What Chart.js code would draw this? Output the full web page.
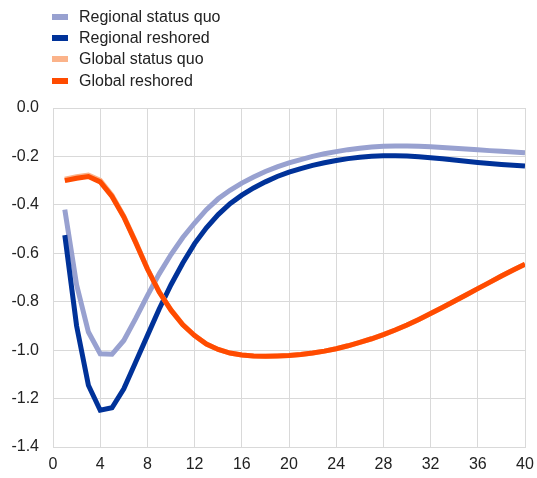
<!DOCTYPE html>
<html>
<head>
<meta charset="utf-8">
<script src="https://cdn.jsdelivr.net/npm/chart.js@4"></script>
<style>
    html, body { margin: 0; padding: 0; background: #fff; }
    #wrap { position: relative; width: 537px; height: 478px; }
    #legend { position: absolute; left: 52px; top: 6px; font: 16px "Liberation Sans", Arial, sans-serif; color: #222; }
    .item { height: 21.3px; display: flex; align-items: center; }
    .swatch { width: 16px; height: 6px; margin-right: 11px; }
</style>
</head>
<body>
<div id="wrap">
    <canvas id="chart" width="537" height="478"></canvas>
    <div id="legend"></div>
</div>
<script>
const quarters = Array.from({ length: 40 }, (_, i) => i + 1);

const regionalStatusQuo = [
    -0.42, -0.73, -0.925, -1.015, -1.017, -0.96, -0.87, -0.775, -0.685, -0.605,
    -0.535, -0.475, -0.42, -0.375, -0.34, -0.31, -0.285, -0.262, -0.243, -0.227,
    -0.213, -0.2, -0.189, -0.18, -0.172, -0.166, -0.161, -0.158, -0.157, -0.157,
    -0.158, -0.16, -0.163, -0.166, -0.169, -0.172, -0.176, -0.179, -0.182, -0.185
];
const regionalReshored = [
    -0.525, -0.9, -1.145, -1.248, -1.238, -1.16, -1.05, -0.94, -0.83, -0.73,
    -0.64, -0.56, -0.495, -0.44, -0.395, -0.36, -0.33, -0.305, -0.283, -0.265,
    -0.25, -0.237, -0.226, -0.217, -0.209, -0.203, -0.199, -0.197, -0.197, -0.198,
    -0.201, -0.205, -0.21, -0.215, -0.22, -0.225, -0.229, -0.233, -0.236, -0.24
];
const globalStatusQuo = [
    -0.294, -0.284, -0.277, -0.299, -0.36, -0.447, -0.552, -0.663, -0.759, -0.834,
    -0.894, -0.94, -0.975, -0.997, -1.012, -1.02, -1.024, -1.025, -1.024, -1.022,
    -1.018, -1.012, -1.004, -0.994, -0.982, -0.968, -0.953, -0.936, -0.917, -0.896,
    -0.873, -0.849, -0.824, -0.798, -0.772, -0.746, -0.72, -0.694, -0.669, -0.645
];
const globalReshored = [
    -0.3, -0.29, -0.283, -0.305, -0.365, -0.45, -0.555, -0.665, -0.76, -0.835,
    -0.895, -0.94, -0.975, -0.997, -1.012, -1.02, -1.024, -1.025, -1.024, -1.022,
    -1.018, -1.012, -1.004, -0.994, -0.982, -0.968, -0.953, -0.936, -0.917, -0.896,
    -0.873, -0.849, -0.824, -0.798, -0.772, -0.746, -0.72, -0.694, -0.669, -0.645
];

const seriesNames = ['Regional status quo', 'Regional reshored', 'Global status quo', 'Global reshored'];
const seriesColors = ['#98a1d0', '#003299', '#fbb38a', '#ff4b00'];
const seriesValues = [regionalStatusQuo, regionalReshored, globalStatusQuo, globalReshored];
const drawOrder = [3, 2, 1, 0];

const tickFont = { family: '"Liberation Sans", Arial, sans-serif', size: 16 };

const datasets = seriesNames.map((name, i) => ({
    label: name,
    data: quarters.map((q, j) => ({ x: q, y: seriesValues[i][j] })),
    borderColor: seriesColors[i],
    backgroundColor: seriesColors[i],
    borderWidth: 5,
    pointRadius: 0,
    tension: 0,
    order: drawOrder[i]
}));

new Chart(document.getElementById('chart'), {
    type: 'line',
    data: { datasets: datasets },
    options: {
        responsive: false,
        animation: false,
        layout: { padding: { top: 108, right: 12, left: 0, bottom: 0 } },
        plugins: { legend: { display: false }, tooltip: { enabled: false } },
        scales: {
            x: {
                type: 'linear',
                min: 0,
                max: 40,
                ticks: { stepSize: 4, color: '#222', font: tickFont, padding: 8 },
                grid: { color: '#d9d9d9', drawTicks: false },
                border: { color: '#d9d9d9' },
                afterFit: axis => {
                    axis.height = 31;
                    axis.paddingRight = 0;
                    axis.paddingLeft = 0;
                }
            },
            y: {
                min: -1.4,
                max: 0,
                ticks: {
                    stepSize: 0.2,
                    color: '#222',
                    font: tickFont,
                    padding: 14,
                    callback: v => v.toFixed(1)
                },
                grid: { color: '#d9d9d9', drawTicks: false },
                border: { color: '#d9d9d9' },
                afterFit: axis => {
                    axis.width = 53;
                    axis.paddingTop = 0;
                    axis.paddingBottom = 0;
                }
            }
        }
    }
});

// legend as plain html, stacked like the original
const legend = document.getElementById('legend');
seriesNames.forEach((name, i) => {
    const row = document.createElement('div');
    row.className = 'item';
    row.innerHTML = `<span class="swatch" style="background:${seriesColors[i]}"></span>${name}`;
    legend.appendChild(row);
});
</script>
</body>
</html>
